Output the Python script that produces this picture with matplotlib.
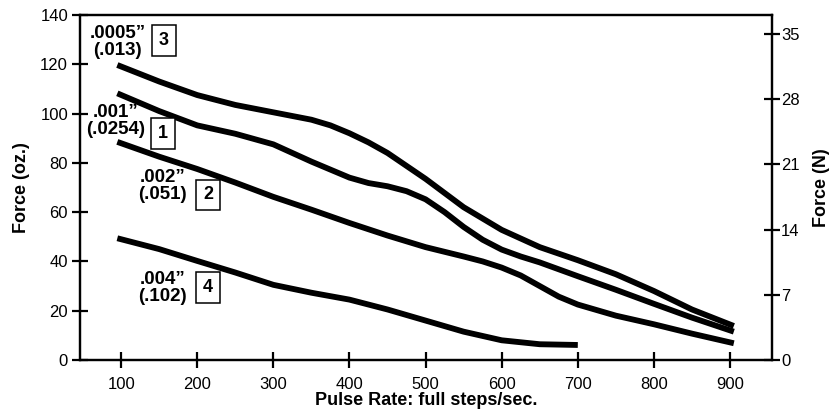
import numpy as np
import matplotlib
matplotlib.use('Agg')
import matplotlib.pyplot as plt

plt.rcParams['font.family'] = ['Liberation Sans', 'DejaVu Sans']

# curve data (pulse rate, force in oz.)
x3 = [95, 150, 200, 250, 300, 350, 375, 400, 425, 450, 500, 550, 600, 650, 700, 750, 800, 850, 905]
f3 = [119.7, 113, 107.5, 103.5, 100.5, 97.5, 95.2, 92, 88.3, 84, 73.5, 62, 52.8, 45.8, 40.5, 34.8, 28, 20.5, 13.8]

x1 = [95, 150, 200, 250, 300, 350, 400, 425, 450, 475, 500, 525, 550, 575, 600, 625, 650, 700, 750, 800, 850, 905]
f1 = [108.2, 101, 95.2, 91.8, 87.5, 80.5, 74, 71.8, 70.5, 68.5, 65.2, 60, 54, 48.8, 44.8, 42, 39.6, 34, 28.5, 22.8, 17.2, 11.5]

x2 = [95, 150, 200, 250, 300, 350, 400, 450, 500, 550, 575, 600, 625, 650, 675, 700, 750, 800, 850, 905]
f2 = [88.5, 82.5, 77.5, 72, 66.2, 61, 55.6, 50.5, 45.8, 42, 40, 37.5, 34.3, 30, 25.7, 22.5, 18, 14.5, 10.7, 6.8]

x4 = [95, 150, 200, 250, 300, 350, 400, 450, 500, 550, 600, 650, 700]
f4 = [49.4, 45, 40.2, 35.5, 30.5, 27.3, 24.5, 20.5, 16, 11.5, 8, 6.4, 6.1]

series = [(x3, f3), (x1, f1), (x2, f2), (x4, f4)]

# labels: (inches, mm, box number, text pos, box pos)
labels = [
    ('.0005\u201d', '(.013)', '3', (95, 129), (156, 129.5)),
    ('.001\u201d', '(.0254)', '1', (93, 97), (155, 92)),
    ('.002\u201d', '(.051)', '2', (154, 70.6), (214, 67)),
    ('.004\u201d', '(.102)', '4', (154, 29.2), (214, 29.5)),
]

xticks = [100, 200, 300, 400, 500, 600, 700, 800, 900]
yticks_oz = [0, 20, 40, 60, 80, 100, 120, 140]
yticks_n = [0, 7, 14, 21, 28, 35]

fig = plt.figure(figsize=(8.39, 4.16), dpi=100)
ax = fig.add_axes([0.0954, 0.1346, 0.8246, 0.8294])

for xs, fs in series:
    ax.plot(xs, fs, color='black', lw=4.2, solid_capstyle='butt', solid_joinstyle='round')

for inch, mm, num, tpos, bpos in labels:
    ax.text(tpos[0], tpos[1], inch + '\n' + mm, ha='center', va='center',
            fontsize=13.5, fontweight='bold', multialignment='center', linespacing=0.95)
    ax.text(bpos[0], bpos[1], num, ha='center', va='center', fontsize=13, fontweight='bold',
            bbox=dict(boxstyle='square,pad=0.38', fc='white', ec='black', lw=1.1))

ax.set_xlim(46, 955)
ax.set_ylim(0, 140)
ax.set_xticks(xticks)
ax.set_yticks(yticks_oz)
ax.tick_params(axis='x', direction='inout', length=12, width=1.6, labelsize=12, pad=6)
ax.tick_params(axis='y', direction='inout', length=12, width=1.6, labelsize=12, pad=2.6)
for s in ax.spines.values():
    s.set_linewidth(1.6)
ax.set_xlabel('Pulse Rate: full steps/sec.', fontsize=13, fontweight='bold', labelpad=0)
ax.set_ylabel('Force (oz.)', fontsize=13, fontweight='bold', labelpad=7)

ax2 = ax.twinx()
ax2.set_ylim(0, 37.05)
ax2.set_yticks(yticks_n)
ax2.tick_params(axis='y', direction='inout', length=12, width=1.6, labelsize=12, pad=0.5)
for s in ax2.spines.values():
    s.set_linewidth(1.6)
ax2.set_ylabel('Force (N)', fontsize=13, fontweight='bold', labelpad=10)

fig.savefig('out.png', dpi=100)
